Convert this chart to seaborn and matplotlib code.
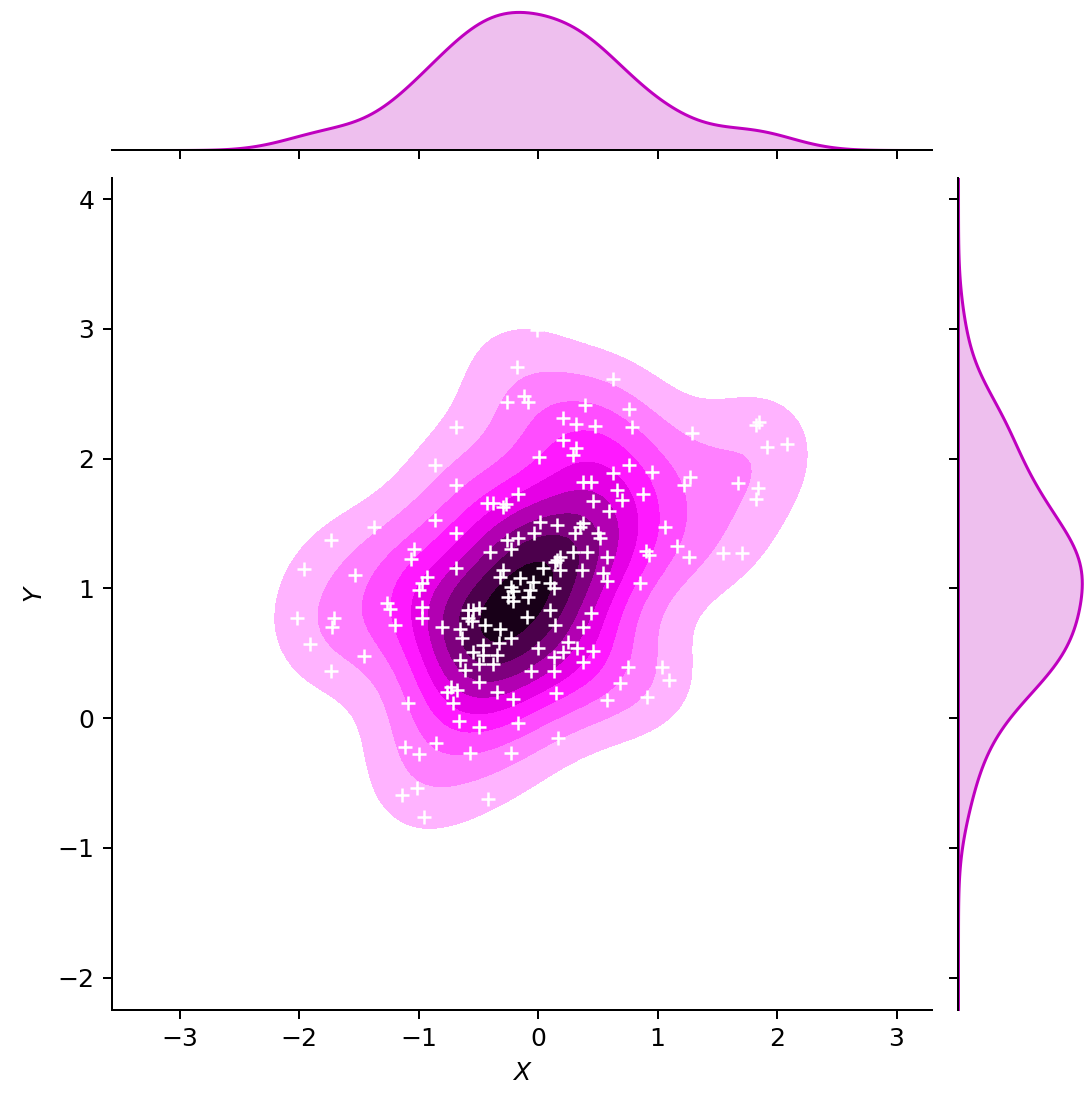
import colorsys

import matplotlib
matplotlib.use("Agg")
import matplotlib.pyplot as plt
import matplotlib.colors as mcolors
from matplotlib import ticker
import numpy as np
import seaborn as sns

# Observations (X, Y)
x_vals = [
    -0.55, -0.01, -0.18, 0.63, -0.26, -0.12, -0.08, -0.69, -0.86, 0.39,
    0.76, 0.21, 0.32, 0.48, 0.21, 0.32, 0.29, 0.01, 0.63, 0.76,
    0.38, 0.44, 0.66, -0.69, -0.17, 0.79, 1.29, 1.82, 1.85, 1.92,
    2.08, 0.95, 1.27, 1.22, 1.67, 1.84, 0.88, 1.82, 1.06, 1.16,
    0.90, 0.93, 1.26, 1.55, 1.71, 0.85, 0.75, 1.04, 1.10, 0.91,
    -0.86, -0.69, -1.37, -1.73, -1.04, -1.06, -1.96, -1.53, -0.93, -0.97,
    -1.00, -0.69, -1.26, -1.24, -0.97, -0.97, -0.80, -1.20, -1.71, -1.72,
    -2.02, -1.91, -1.46, -1.73, -1.09, -0.76, -1.11, -1.00, -0.85, -1.14,
    -1.01, -0.95, -0.61, -0.49, -0.49, -0.38, -0.06, 0.13, 0.38, -0.73,
    -0.68, -0.71, -0.34, -0.21, 0.15, 0.69, 0.58, -0.66, -0.49, -0.17,
    0.17, -0.57, -0.23, -0.42, -0.43, -0.38, -0.29, -0.27, 0.46, 0.70,
    0.59, 0.02, 0.16, 0.35, 0.38, 0.31, 0.50, 0.52, -0.03, -0.17,
    -0.26, -0.40, -0.23, 0.29, 0.41, 0.58, 0.18, 0.16, 0.14, 0.04,
    0.18, 0.37, 0.54, 0.58, -0.29, -0.15, -0.32, -0.04, 0.10, 0.13,
    -0.23, -0.21, -0.07, -0.25, -0.21, -0.08, -0.59, -0.54, -0.49, -0.59,
    -0.55, -0.44, -0.65, -0.32, -0.23, -0.09, 0.10, 0.14, -0.64, -0.46,
    -0.54, -0.46, -0.34, -0.65, 0.00, 0.13, 0.21, 0.44, 0.38, 0.25,
    0.33, 0.46, -0.33,
]
y_vals = [
    2.96, 2.99, 2.71, 2.61, 2.44, 2.48, 2.44, 2.24, 1.95, 2.41,
    2.38, 2.31, 2.27, 2.25, 2.14, 2.08, 2.03, 2.01, 1.89, 1.95,
    1.82, 1.82, 1.76, 1.80, 1.73, 2.24, 2.20, 2.26, 2.28, 2.09,
    2.11, 1.90, 1.86, 1.80, 1.81, 1.77, 1.73, 1.69, 1.47, 1.33,
    1.29, 1.26, 1.24, 1.27, 1.27, 1.04, 0.39, 0.39, 0.29, 0.16,
    1.53, 1.43, 1.47, 1.37, 1.30, 1.23, 1.15, 1.10, 1.09, 1.04,
    0.99, 1.16, 0.89, 0.84, 0.86, 0.77, 0.70, 0.72, 0.77, 0.70,
    0.77, 0.57, 0.48, 0.36, 0.12, 0.20, -0.22, -0.28, -0.19, -0.59,
    -0.54, -0.76, 0.37, 0.42, 0.28, 0.42, 0.36, 0.36, 0.43, 0.24,
    0.22, 0.12, 0.20, 0.15, 0.19, 0.27, 0.14, -0.02, -0.07, -0.04,
    -0.15, -0.27, -0.27, -0.62, 1.66, 1.66, 1.63, 1.65, 1.67, 1.68,
    1.60, 1.51, 1.49, 1.47, 1.50, 1.43, 1.43, 1.39, 1.43, 1.39,
    1.37, 1.28, 1.30, 1.28, 1.28, 1.24, 1.24, 1.22, 1.20, 1.16,
    1.14, 1.14, 1.12, 1.06, 1.14, 1.08, 1.09, 1.05, 1.04, 1.00,
    1.01, 0.98, 0.99, 0.93, 0.90, 0.93, 0.83, 0.83, 0.85, 0.77,
    0.75, 0.72, 0.69, 0.69, 0.62, 0.78, 0.83, 0.72, 0.62, 0.56,
    0.51, 0.49, 0.49, 0.45, 0.54, 0.47, 0.51, 0.81, 0.70, 0.59,
    0.54, 0.52, 0.58,
]

x = np.asarray(x_vals)
y = np.asarray(y_vals)

X_LIM = (-3.565, 3.297)
Y_LIM = (-2.25, 4.163)
BASE_COLOR = "m"

# White -> magenta -> black colormap built in HLS space
base_rgb = mcolors.to_rgb(BASE_COLOR)
h, _, s = colorsys.rgb_to_hls(*base_rgb)
ramp = [colorsys.hls_to_rgb(h, l, s) for l in np.linspace(1, 0, 12)]
cmap = sns.blend_palette(ramp, as_cmap=True)

W, H, DPI = 1084, 1097, 180
g = sns.JointGrid(x=x, y=y, height=6, xlim=X_LIM, ylim=Y_LIM)
fig = g.figure
fig.set_size_inches(W / DPI, H / DPI)


def px_box(left, top, right, bottom):
    return [left / W, (H - bottom) / H, (right - left) / W, (bottom - top) / H]


g.ax_joint.set_position(px_box(112, 178, 932, 1010))
g.ax_marg_x.set_position(px_box(112, 5, 932, 150))
g.ax_marg_y.set_position(px_box(958, 178, 1088, 1010))


# Product-kernel Gaussian KDE with normal-reference bandwidths per axis
def bivariate_kde(xs, ys, gridsize=100):
    n = len(xs)
    bx = 1.06 * np.std(xs, ddof=1) * n ** (-1.0 / 6.0)
    by = 1.06 * np.std(ys, ddof=1) * n ** (-1.0 / 6.0)
    gx = np.linspace(X_LIM[0], X_LIM[1], gridsize)
    gy = np.linspace(Y_LIM[0], Y_LIM[1], gridsize)
    kx = np.exp(-0.5 * ((gx[:, None] - xs[None, :]) / bx) ** 2)
    ky = np.exp(-0.5 * ((gy[:, None] - ys[None, :]) / by) ** 2)
    z = ky @ kx.T / (2 * np.pi * bx * by * n)
    xx, yy = np.meshgrid(gx, gy)
    return xx, yy, z


xx, yy, zz = bivariate_kde(x, y)
levels = ticker.MaxNLocator(11, min_n_ticks=1).tick_values(zz.min(), zz.max())
mids = (levels[:-1] + levels[1:]) / 2
band_colors = [cmap((m - levels[0]) / (levels[-1] - levels[0])) for m in mids]
band_colors[0] = (1, 1, 1, 0)
g.ax_joint.contourf(xx, yy, zz, levels=levels, colors=band_colors)

g.plot_joint(plt.scatter, c="w", s=30, linewidth=1, marker="+")

sns.kdeplot(x=x, ax=g.ax_marg_x, fill=True, color=BASE_COLOR, alpha=0.25,
            linewidth=1.2, cut=10, clip=X_LIM, gridsize=200, bw_adjust=1.06)
sns.kdeplot(y=y, ax=g.ax_marg_y, fill=True, color=BASE_COLOR, alpha=0.25,
            linewidth=1.2, cut=10, clip=Y_LIM, gridsize=200, bw_adjust=1.06)

g.ax_joint.set_xlim(X_LIM)
g.ax_joint.set_ylim(Y_LIM)
g.ax_joint.set_xticks([-3, -2, -1, 0, 1, 2, 3])
g.ax_joint.set_yticks([-2, -1, 0, 1, 2, 3, 4])
g.set_axis_labels("$X$", "$Y$")

fig.savefig("out.png", dpi=DPI)
